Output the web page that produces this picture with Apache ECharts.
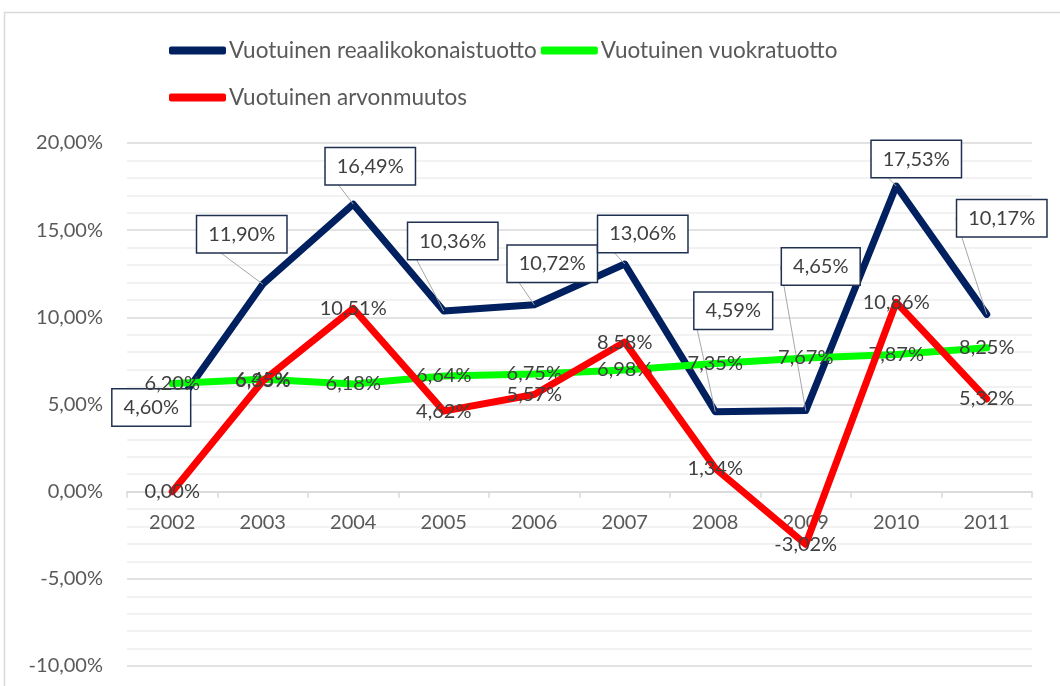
<!DOCTYPE html>
<html>
<head>
<meta charset="utf-8">
<script src="https://cdn.jsdelivr.net/npm/echarts@6/dist/echarts.min.js"></script>
<style>
  html, body { margin: 0; padding: 0; background: #fff; }
  #chart { width: 1060px; height: 686px; }
</style>
</head>
<body>
<div id="chart"></div>
<script>
const years = ['2002', '2003', '2004', '2005', '2006', '2007', '2008', '2009', '2010', '2011']
const totalReturn = [4.60, 11.90, 16.49, 10.36, 10.72, 13.06, 4.59, 4.65, 17.53, 10.17]
const rentReturn = [6.20, 6.45, 6.18, 6.64, 6.75, 6.98, 7.35, 7.67, 7.87, 8.25]
const valueChange = [0.00, 6.35, 10.51, 4.62, 5.57, 8.58, 1.34, -3.02, 10.86, 5.32]
const seriesNames = ['Vuotuinen reaalikokonaistuotto', 'Vuotuinen vuokratuotto', 'Vuotuinen arvonmuutos']

// where the boxed labels of the first series sit, relative to their point
const boxOffsets = [[-21, -4], [-21, -50], [17, -38], [9, -70], [18, -41], [18, -30], [18, -101], [15, -144], [20, -27], [15, -96]]

const font = 'Lato, "Open Sans", sans-serif'
const fmt = v => v.toFixed(2).replace('.', ',') + '%'

const chart = echarts.init(document.getElementById('chart'))

const plainLabel = {
  show: true,
  position: 'inside',
  color: '#404040',
  fontFamily: font,
  fontSize: 20,
  formatter: p => fmt(p.value)
}

const legendText = { color: '#595959', fontFamily: font, fontSize: 22.5, padding: [0, 0, 0, -2] }
const gridBottom = 20

const option = {
  animation: false,
  graphic: [{
    type: 'rect',
    shape: { x: 4.5, y: 12.5, width: 1100, height: 700 },
    style: { fill: 'none', stroke: '#d9d9d9', lineWidth: 1.5 },
    silent: true
  }],
  legend: [
    {
      data: seriesNames.slice(0, 2),
      left: 164, top: 34,
      itemWidth: 57, itemHeight: 8, itemGap: 4,
      icon: 'roundRect',
      textStyle: legendText
    },
    {
      data: seriesNames.slice(2),
      left: 164, top: 81,
      itemWidth: 57, itemHeight: 8,
      icon: 'roundRect',
      textStyle: legendText
    }
  ],
  grid: { left: 127, right: 28, top: 143, bottom: gridBottom, outerBoundsMode: 'none', containLabel: false },
  xAxis: {
    type: 'category',
    data: years,
    boundaryGap: true,
    axisLine: { onZero: false, lineStyle: { color: '#d9d9d9', width: 1.5 } },
    axisTick: { show: true, length: 6, lineStyle: { color: '#d9d9d9', width: 1.5 } },
    axisLabel: { color: '#595959', fontFamily: font, fontSize: 20, margin: 21 }
  },
  yAxis: {
    type: 'value',
    min: -10, max: 20, interval: 5,
    axisLine: { show: false },
    axisTick: { show: false },
    axisLabel: { color: '#595959', fontFamily: font, fontSize: 20, margin: 24, formatter: v => v.toFixed(2).replace('.', ',') + '%' },
    splitLine: { lineStyle: { color: '#d9d9d9', width: 1.5 } },
    minorTick: { show: false, splitNumber: 5 },
    minorSplitLine: { show: true, lineStyle: { color: '#eeeeee', width: 1.5 } }
  },
  series: [
    {
      name: seriesNames[0],
      type: 'line',
      data: totalReturn,
      symbol: 'circle',
      symbolSize: 0,
      z: 2,
      lineStyle: { color: '#002060', width: 7, cap: 'round', join: 'round' },
      itemStyle: { color: '#002060' },
      label: {
        show: true,
        position: 'inside',
        color: '#404040',
        fontFamily: font,
        fontSize: 20,
        backgroundColor: '#fff',
        borderColor: '#1f3050',
        borderWidth: 1.5,
        padding: [9, 11, 7, 11],
        formatter: p => fmt(p.value)
      },
      labelLine: { show: true, lineStyle: { color: '#a6a6a6', width: 1 } },
      labelLayout: p => ({ dx: boxOffsets[p.dataIndex][0], dy: boxOffsets[p.dataIndex][1] })
    },
    {
      name: seriesNames[1],
      type: 'line',
      data: rentReturn,
      symbol: 'circle',
      symbolSize: 0,
      z: 3,
      lineStyle: { color: '#00ff00', width: 7, cap: 'round', join: 'round' },
      itemStyle: { color: '#00ff00' },
      label: plainLabel
    },
    {
      name: seriesNames[2],
      type: 'line',
      data: valueChange,
      symbol: 'circle',
      symbolSize: 0,
      z: 4,
      lineStyle: { color: '#ff0000', width: 7, cap: 'round', join: 'round' },
      itemStyle: { color: '#ff0000' },
      label: plainLabel
    }
  ]
}

chart.setOption(option)

// move the category axis up to the zero line, labels included
const zeroY = chart.convertToPixel({ yAxisIndex: 0 }, 0)
chart.setOption({ xAxis: { offset: -((686 - gridBottom) - zeroY) } })
</script>
</body>
</html>
